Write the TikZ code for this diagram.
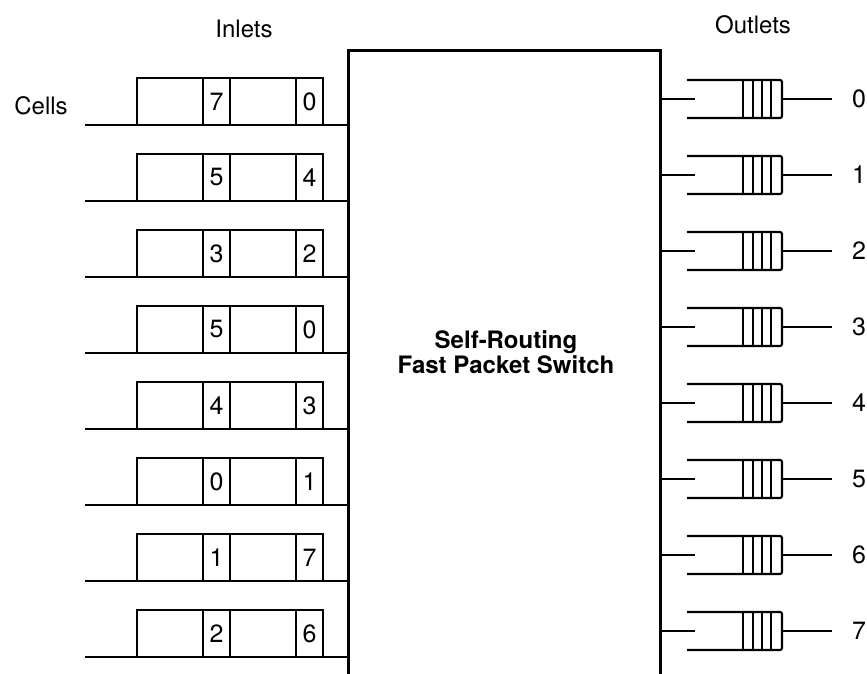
\documentclass[tikz,border=0pt]{standalone}
\usepackage{fontspec}
\setmainfont{TeX Gyre Heros}
\usetikzlibrary{positioning}
\tikzset{
	wall/.style={line width=3pt},
	wire/.style={line width=2.1pt},
	cellbox/.style={draw, line width=2.1pt, outer sep=0pt, inner sep=0pt,
		minimum height=47pt, font=\fontsize{25}{27}\selectfont},
	blankcell/.style={cellbox, minimum width=66pt},
	digitcell/.style={cellbox, minimum width=27pt},
	lbl/.style={inner sep=0pt, font=\fontsize{24}{26}\selectfont}
}
\newcommand{\inlet}[4]{\coordinate (#1) at (85,#2);
	\node[blankcell, anchor=south west] (#1a) at (137,#2) {};
	\node[digitcell, right=0pt of #1a] (#1b) {#3};
	\node[blankcell, right=0pt of #1b] (#1c) {};
	\node[digitcell, right=0pt of #1c] (#1d) {#4};
	\draw[wire] (#1) -- (#1 -| wallL)}
\newcommand{\outlet}[3]{\coordinate (#1) at (695,#2);
	\draw[wire] (#1 -| wallR) -- (#1);
	\draw[wire, rounded corners=2pt] (687,#2-19) -- (782,#2-19) -- (782,#2+19) -- (687,#2+19);
	\foreach \xb in {743,753,762,771} \draw[wire] (\xb,#2-19) -- (\xb,#2+19);
	\coordinate (#1q) at (782,#2);
	\coordinate (#1e) at (832,#2);
	\node[lbl, font=\fontsize{25}{27}\selectfont] (#1n) at (859,#2) {#3};
	\draw[wire] (#1q) -- (#1e)}

\begin{document}
\begin{tikzpicture}[x=1pt, y=-1pt]
	\useasboundingbox (0,0) rectangle (867,674);
%The switch
	\coordinate (wallL) at (348,51);
	\coordinate (wallR) at (660,51);
	\draw[wall] (348,674) -- (wallL) -- (wallR) -- (660,674);
	\node[lbl, align=center, font=\fontsize{24}{25}\selectfont\bfseries] (switch) at (506,352) {Self-Routing\\Fast Packet Switch};
%Titles
	\node[lbl] (inlets) at (244,29) {Inlets};
	\node[lbl] (outlets) at (753,25) {Outlets};
	\node[lbl] (cells) at (41,106) {Cells};
%Inlets
	\inlet{in0}{125}{7}{0};
	\inlet{in1}{201}{5}{4};
	\inlet{in2}{277}{3}{2};
	\inlet{in3}{353}{5}{0};
	\inlet{in4}{429}{4}{3};
	\inlet{in5}{505}{0}{1};
	\inlet{in6}{581}{1}{7};
	\inlet{in7}{657}{2}{6};
%Outlets
	\outlet{out0}{99}{0};
	\outlet{out1}{175}{1};
	\outlet{out2}{251}{2};
	\outlet{out3}{327}{3};
	\outlet{out4}{403}{4};
	\outlet{out5}{479}{5};
	\outlet{out6}{555}{6};
	\outlet{out7}{631}{7};
\end{tikzpicture}
\end{document}
